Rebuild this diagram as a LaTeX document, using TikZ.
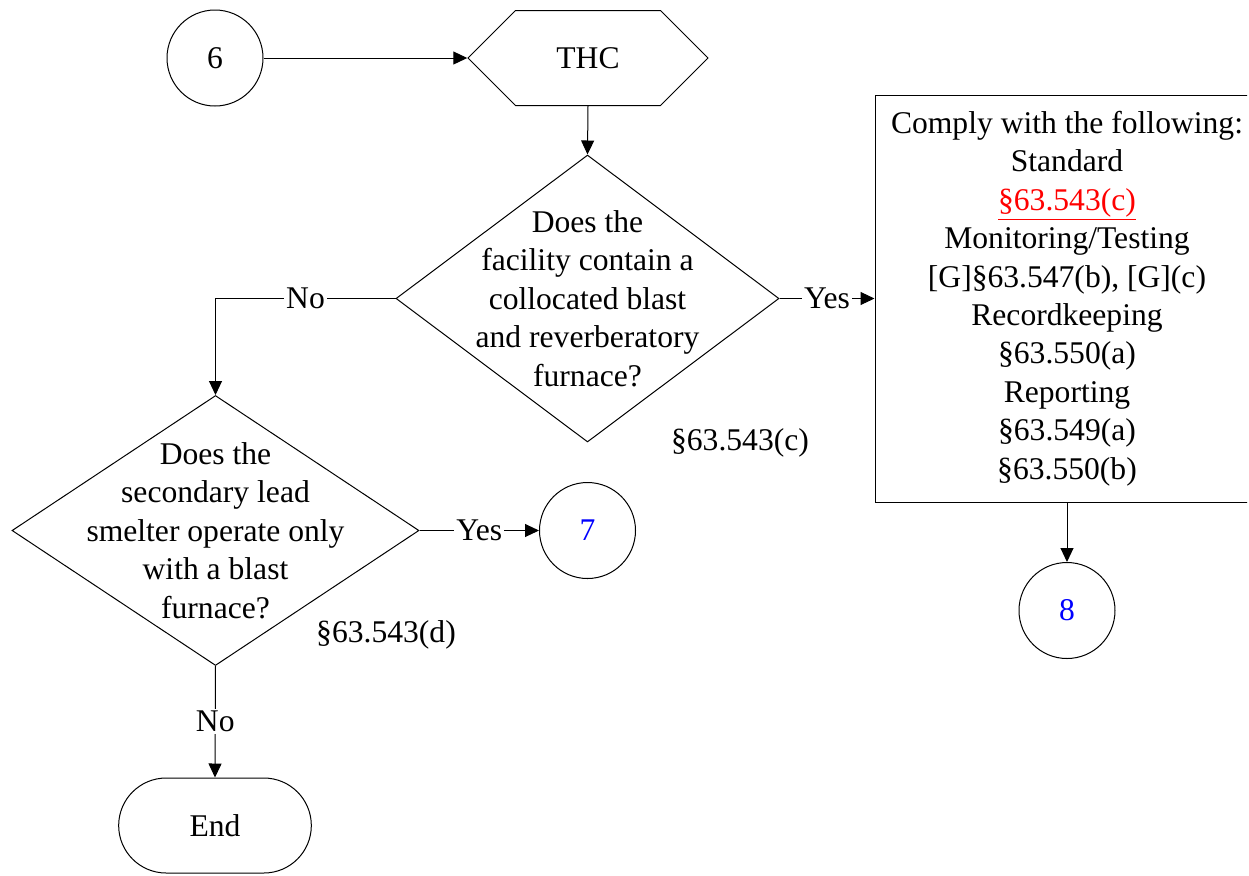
\documentclass[tikz,border=0pt]{standalone}
\usepackage{fontspec}
\setmainfont{Liberation Serif}
\usetikzlibrary{shapes.geometric, shapes.misc, shapes.symbols, positioning, arrows.meta}

\begin{document}
\begin{tikzpicture}[x=0.5pt, y=-0.5pt, line width=0.5pt,
                    font=\fontsize{15.8}{19.2}\selectfont,
                    >={Triangle[length=7pt, width=6.5pt]}]

    % Styles for the flowchart shapes
    \tikzstyle{connector} = [circle, draw=black, minimum size=48pt, inner sep=0pt]
    \tikzstyle{prep} = [signal, signal to=west and east, signal pointer angle=90,
                        draw=black, minimum width=120pt, minimum height=47.5pt]
    \tikzstyle{decision} = [diamond, draw=black, inner sep=0pt]
    \tikzstyle{process} = [rectangle, draw=black, minimum width=192pt,
                           minimum height=203.5pt, align=center]
    \tikzstyle{terminal} = [rounded rectangle, draw=black, minimum width=103pt,
                            minimum height=47.5pt]
    \tikzstyle{answer} = [fill=white, inner sep=1pt]

    \useasboundingbox (0,0) rectangle (1249,875);
    \clip (0,0) rectangle (1247,875);

    % Entry connector
    \node[connector] (c6) at (215,58) {6};

    % Pollutant heading
    \node[prep] (thc) at (588,58) {THC};

    % First question
    \node[decision, minimum width=191.5pt, minimum height=143.5pt,
          label={[align=center]center:Does the\\facility contain a\\collocated blast\\and reverberatory\\furnace?}]
          (q1) at (587.5,298.5) {};
    \node (ref1) at (740,443) {\S63.543(c)};

    % Requirements box
    \node[process] (req) at (1067,298.5) {Comply with the following:\\Standard\\
          \textcolor{red}{\underline{\S63.543(c)}}\\Monitoring/Testing\\
          {[G]\S63.547(b), [G](c)}\\Recordkeeping\\\S63.550(a)\\Reporting\\
          \S63.549(a)\\\S63.550(b)};

    % Exit connector 8
    \node[connector, text=blue] (c8) at (1067,610.5) {8};

    % Second question
    \node[decision, minimum width=203.5pt, minimum height=135pt,
          label={[align=center]center:Does the\\secondary lead\\smelter operate only\\with a blast\\furnace?}]
          (q2) at (215.5,530.5) {};
    \node (ref2) at (386,635) {\S63.543(d)};

    % Exit connector 7
    \node[connector, text=blue] (c7) at (587.5,530.5) {7};

    % End
    \node[terminal] (end) at (215,825.5) {End};

    % Connections
    \draw[->] (c6) -- (thc.west);
    \draw[->] (thc.south) -- (q1.north);
    \draw[->] (q1.west) -| node[answer, pos=0.25] {No} (q2.north);
    \draw[->] (q1.east) -- node[answer] {Yes} (req.west);
    \draw[->] (req.south) -- (c8.north);
    \draw[->] (q2.east) -- node[answer] {Yes} (c7.west);
    \draw[->] (q2.south) -- node[answer] {No} (end.north);

\end{tikzpicture}
\end{document}
